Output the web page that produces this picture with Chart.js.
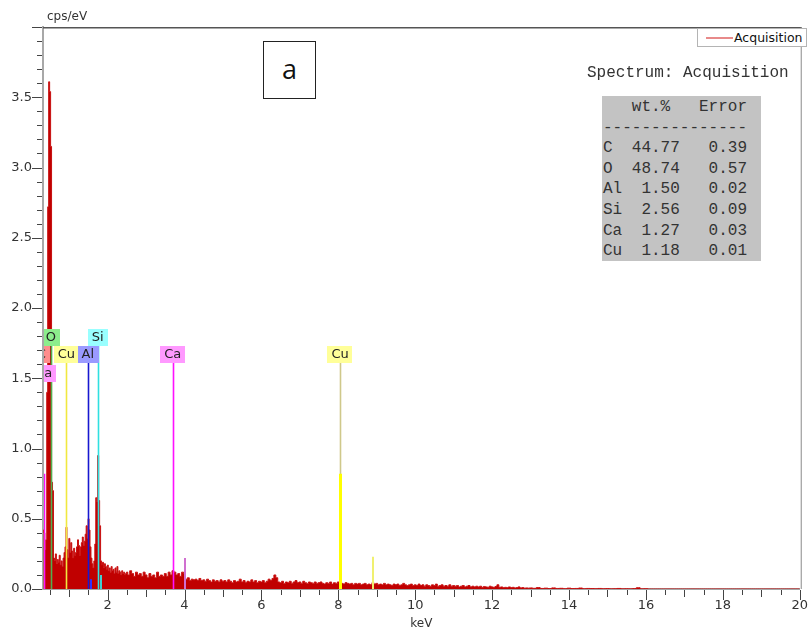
<!DOCTYPE html>
<html>
<head>
<meta charset="utf-8">
<title>EDS spectrum</title>
<script src="https://cdn.jsdelivr.net/npm/chart.js@4.4.0/dist/chart.umd.min.js"></script>
<style>
  body { margin: 0; background: #fff; }
  #wrap { position: relative; width: 811px; height: 631px; overflow: hidden; }
  #y-title { position: absolute; left: 47px; top: 9px; font: 12px "DejaVu Sans", sans-serif; color: #333; }
  #legend { position: absolute; left: 697px; top: 28px; width: 110px; height: 19px; border: 1px solid #b4b4b4;
            background: #fff; overflow: hidden; box-sizing: border-box; }
  #legend .swatch { position: absolute; left: 8px; top: 8px; width: 27px; height: 2px; background: #e88a8a; }
  #legend .name { position: absolute; left: 36px; top: 1px; font: 12.5px "DejaVu Sans", sans-serif; color: #111; white-space: nowrap; }
  #panel-tag { position: absolute; left: 263px; top: 41px; width: 53px; height: 58px; box-sizing: border-box;
               border: 1.5px solid #222; background: #fff; font: 27px "Open Sans", sans-serif; color: #111;
               text-align: center; line-height: 54px; }
  #spec-name { position: absolute; left: 587px; top: 64px; font: 16px "Liberation Mono", monospace; color: #333; white-space: pre; }
  #quant { position: absolute; left: 602px; top: 96px; width: 159px; height: 165px; margin: 0; padding: 1px 0 0 1px;
           box-sizing: border-box; background: #c3c3c3; font: 16px/20.6px "Liberation Mono", monospace; color: #333; }
</style>
</head>
<body>
<div id="wrap">
  <canvas id="spectrum" width="811" height="631"></canvas>
  <div id="y-title">cps/eV</div>
  <div id="legend"><span class="swatch"></span><span class="name">Acquisition</span></div>
  <div id="panel-tag">a</div>
  <div id="spec-name">Spectrum: Acquisition</div>
  <pre id="quant"></pre>
</div>
<script>
// counts (cps/eV), three energy segments
const lowStart = 0.33, lowStep = 0.025;
const lowCounts = [
  0.42, 0.40, 0.28, 0.35, 1.40, 2.72, 3.61, 3.54, 3.15, 0.76,
  0.70, 0.22, 0.20, 0.25, 0.18, 0.21, 0.19, 0.24, 0.17, 0.20,
  0.16, 0.22, 0.26, 0.30, 0.44, 0.28, 0.22, 0.36, 0.26, 0.33,
  0.27, 0.22, 0.29, 0.24, 0.26, 0.30, 0.35, 0.31, 0.24, 0.30,
  0.33, 0.37, 0.31, 0.34, 0.39, 0.45, 0.36, 0.50, 0.42, 0.30,
  0.22, 0.18, 0.15, 0.20, 0.32, 0.65, 0.62, 0.95, 0.63, 0.45,
  0.20, 0.17, 0.19, 0.15, 0.18, 0.16, 0.14, 0.17, 0.13, 0.15,
  0.12, 0.16, 0.13, 0.14, 0.11, 0.15, 0.12, 0.16, 0.11, 0.13,
  0.12, 0.10, 0.13, 0.11, 0.12, 0.10, 0.11
];
const midStart = 2.5, midStep = 0.05;
const midCounts = [
  0.12, 0.10, 0.13, 0.11, 0.09, 0.12, 0.10, 0.11, 0.09, 0.12,
  0.10, 0.08, 0.11, 0.09, 0.10, 0.08, 0.12, 0.09, 0.10, 0.09,
  0.11, 0.09, 0.12, 0.10, 0.13, 0.12, 0.10, 0.11, 0.09, 0.12,
  0.11, 0.07, 0.08, 0.06, 0.07, 0.065, 0.07, 0.06, 0.075, 0.06,
  0.065, 0.055, 0.07, 0.06, 0.05, 0.065, 0.055, 0.06, 0.05, 0.065,
  0.055, 0.06, 0.05, 0.065, 0.055, 0.045, 0.06, 0.05, 0.055, 0.07,
  0.05, 0.06, 0.045, 0.055, 0.05, 0.065, 0.05, 0.06, 0.045, 0.055,
  0.05, 0.06, 0.045, 0.055, 0.07, 0.06, 0.075, 0.10, 0.08, 0.05,
  0.045, 0.055, 0.04, 0.05, 0.045, 0.055, 0.04, 0.05, 0.06, 0.045,
  0.05, 0.04, 0.055, 0.045, 0.04, 0.05, 0.045, 0.04, 0.05, 0.04,
  0.045, 0.05, 0.04, 0.035, 0.045, 0.04, 0.05, 0.035, 0.045, 0.04,
  0.05, 0.045, 0.04, 0.035, 0.045, 0.04, 0.035, 0.04, 0.03, 0.04,
  0.035, 0.04, 0.03, 0.035, 0.04, 0.03, 0.035, 0.03, 0.045, 0.035,
  0.04, 0.03, 0.035, 0.03, 0.04, 0.03, 0.035, 0.03, 0.025, 0.035,
  0.03, 0.035, 0.025, 0.03, 0.04, 0.03, 0.025, 0.03, 0.035, 0.025,
  0.03, 0.025, 0.035, 0.025, 0.03, 0.02, 0.03, 0.025, 0.02, 0.03,
  0.025, 0.035, 0.02, 0.025, 0.03, 0.02, 0.025, 0.02, 0.03, 0.02,
  0.025, 0.02, 0.025, 0.015, 0.02, 0.025, 0.015, 0.02, 0.025, 0.015,
  0.02, 0.015, 0.02, 0.015, 0.02, 0.012, 0.018, 0.015, 0.012, 0.02,
  0.015, 0.012, 0.018, 0.03, 0.012, 0.015, 0.01, 0.012, 0.01, 0.015,
  0.01, 0.012, 0.008, 0.01, 0.015, 0.008, 0.01, 0.006, 0.008, 0.006
];
const highStart = 13.0, highStep = 0.1;
const highCounts = [
  0.008, 0.005, 0.01, 0.004, 0.006, 0.003, 0.008, 0.004, 0.005, 0.002,
  0.006, 0.003, 0.004, 0.007, 0.002, 0.004, 0.003, 0.002, 0.004, 0.002,
  0.003, 0.001, 0.002, 0.004, 0.001, 0.002, 0.001, 0.003, 0.009, 0.001,
  0.002, 0, 0, 0, 0, 0, 0, 0, 0, 0,
  0, 0, 0, 0, 0, 0, 0, 0, 0, 0,
  0, 0, 0, 0, 0, 0, 0, 0, 0, 0,
  0, 0, 0, 0, 0, 0, 0, 0, 0, 0, 0
];

// element markers
const markNames = ["Ca", "C", "O", "Cu", "Al", "Si", "Ca", "Cu"];
const markKeV   = [0.341, 0.277, 0.525, 0.930, 1.486, 1.740, 3.692, 8.048];
const markTop   = [0.82, 0, 1.73, 1.61, 1.61, 1.73, 1.61, 1.61];
const markRow   = [2, 1, 0, 1, 1, 0, 1, 1];
// secondary lines (K-beta etc.)
const minorKeV    = [1.557, 1.836, 4.013, 8.905];
const minorHeight = [0.07, 0.10, 0.22, 0.23];
const minorColor  = ["#3030ff", "#40d0d0", "#d070d0", "#f0f070"];
const cuKaHeight  = 0.82;

// quantification table
const quantElements = ["C", "O", "Al", "Si", "Ca", "Cu"];
const wtPercent = [44.77, 48.74, 1.50, 2.56, 1.27, 1.18];
const wtError   = [0.39, 0.57, 0.02, 0.09, 0.03, 0.01];

const rowBase = [1.73, 1.61, 1.47];
const lineColor = { Ca: "#ff10ff", C: "#ff5050", O: "#50b050", Cu: "#f0e840", Al: "#1818d0", Si: "#30e0e0" };
const boxColor  = { Ca: "#ff99ff", C: "#ff8c8c", O: "#8ced8c", Cu: "#ffff99", Al: "#9a9aff", Si: "#99ffff" };

let lines = ["   wt.%   Error", "---------------"];
quantElements.forEach((el, i) => {
  lines.push(el.padEnd(2) + wtPercent[i].toFixed(2).padStart(6) + wtError[i].toFixed(2).padStart(7));
});
document.getElementById("quant").textContent = lines.join("\n");

const spectrum = [];
lowCounts.forEach((c, i) => spectrum.push({ x: lowStart + i * lowStep, y: c }));
midCounts.forEach((c, i) => spectrum.push({ x: midStart + i * midStep, y: c }));
highCounts.forEach((c, i) => spectrum.push({ x: highStart + i * highStep, y: c }));

const markerPlugin = {
  id: "markers",
  afterDatasetsDraw(chart) {
    const { ctx, chartArea: a } = chart;
    const xs = chart.scales.x, ys = chart.scales.y;
    const y0 = ys.getPixelForValue(0);
    ctx.save();
    ctx.beginPath();
    ctx.rect(a.left + 1, a.top, a.right - a.left, a.bottom - a.top);
    ctx.clip();

    minorKeV.forEach((e, i) => {
      const px = Math.round(xs.getPixelForValue(e));
      ctx.strokeStyle = minorColor[i];
      ctx.lineWidth = 2;
      ctx.beginPath();
      ctx.moveTo(px, y0);
      ctx.lineTo(px, ys.getPixelForValue(minorHeight[i]));
      ctx.stroke();
    });

    markNames.forEach((name, i) => {
      if (!markTop[i]) return;
      const px = Math.round(xs.getPixelForValue(markKeV[i])) + 0.5;
      ctx.strokeStyle = (i === 7) ? "#cfc88a" : lineColor[name];
      ctx.lineWidth = 1.6;
      ctx.beginPath();
      ctx.moveTo(px, y0);
      ctx.lineTo(px, ys.getPixelForValue(markTop[i]));
      ctx.stroke();
    });

    // thick Cu K-alpha part
    const cuPx = Math.round(xs.getPixelForValue(markKeV[7])) + 0.5;
    ctx.strokeStyle = "#ffff00";
    ctx.lineWidth = 3;
    ctx.beginPath();
    ctx.moveTo(cuPx, y0);
    ctx.lineTo(cuPx, ys.getPixelForValue(cuKaHeight));
    ctx.stroke();

    ctx.font = '13px "DejaVu Sans", sans-serif';
    ctx.textAlign = "center";
    ctx.textBaseline = "middle";
    markNames.forEach((name, i) => {
      const px = xs.getPixelForValue(markKeV[i]);
      const yb = Math.round(ys.getPixelForValue(rowBase[markRow[i]]));
      const w = ctx.measureText(name).width + 8;
      ctx.fillStyle = boxColor[name];
      ctx.fillRect(Math.round(px - w / 2), yb - 17, Math.round(w), 17);
      ctx.fillStyle = "#222";
      ctx.fillText(name, px, yb - 8);
    });
    ctx.restore();
  },
  afterDraw(chart) {
    const { ctx, chartArea: a } = chart;
    const xs = chart.scales.x, ys = chart.scales.y;
    ctx.save();
    ctx.strokeStyle = "#444";
    ctx.lineWidth = 1;
    ctx.beginPath();
    xs.ticks.forEach(t => {
      const px = Math.round(xs.getPixelForValue(t.value)) + 0.5;
      const len = (Math.abs(t.value % 2) < 1e-6) ? 10 : (Math.abs(t.value % 1) < 1e-6 ? 7 : 5);
      ctx.moveTo(px, a.bottom + 1);
      ctx.lineTo(px, a.bottom + 1 + len);
    });
    ys.ticks.forEach(t => {
      const py = Math.round(ys.getPixelForValue(t.value)) + 0.5;
      const major = Math.abs(t.value * 2 - Math.round(t.value * 2)) < 1e-6;
      ctx.moveTo(a.left - 1, py);
      ctx.lineTo(a.left - 1 - (major ? 10 : 5), py);
    });
    ctx.stroke();
    // frame
    ctx.strokeStyle = "#555";
    ctx.lineWidth = 1.5;
    ctx.beginPath();
    ctx.moveTo(a.left, a.top + 0.75);
    ctx.lineTo(a.right + 2, a.top + 0.75);
    ctx.stroke();
    ctx.strokeStyle = "#8a8a8a";
    ctx.lineWidth = 1;
    ctx.beginPath();
    ctx.moveTo(a.right + 1.5, a.top);
    ctx.lineTo(a.right + 1.5, a.bottom);
    ctx.stroke();
    ctx.restore();
  }
};

const tickFont = { family: "DejaVu Sans", size: 13 };

new Chart(document.getElementById("spectrum"), {
  type: "line",
  data: {
    datasets: [{
      label: "Acquisition",
      data: spectrum,
      fill: "origin",
      backgroundColor: "#c00000",
      borderColor: "#c81010",
      borderWidth: 1,
      pointRadius: 0,
      stepped: "middle"
    }]
  },
  options: {
    responsive: false,
    animation: false,
    devicePixelRatio: 1,
    layout: { padding: { top: 27, right: 11, left: 0, bottom: 0 } },
    plugins: { legend: { display: false }, tooltip: { enabled: false } },
    scales: {
      x: {
        type: "linear",
        min: 0.32,
        max: 20,
        afterFit(s) { s.height = 42; },
        border: { color: "#a6a6a6", width: 2 },
        grid: { color: "rgba(0,0,0,0)", drawOnChartArea: false, drawTicks: true, tickLength: 6 },
        ticks: {
          stepSize: 0.5, includeBounds: false, autoSkip: false, maxRotation: 0, padding: 3,
          color: "#333", font: tickFont,
          callback: v => (Math.abs(v % 2) < 1e-6 ? String(v) : "")
        },
        title: { display: true, text: "keV", color: "#333", font: { family: "DejaVu Sans", size: 12 }, padding: { top: 0, bottom: 0 } }
      },
      y: {
        min: 0,
        max: 4,
        afterFit(s) { s.width = 43; },
        border: { color: "#a8a8a8", width: 2 },
        grid: { color: "rgba(0,0,0,0)", drawOnChartArea: false, drawTicks: true, tickLength: 8 },
        ticks: {
          stepSize: 0.1, autoSkip: false, padding: 3, color: "#333", font: tickFont,
          callback: v => (Math.abs(v * 2 - Math.round(v * 2)) < 1e-6 && v < 3.99 ? v.toFixed(1) : "")
        }
      }
    }
  },
  plugins: [markerPlugin]
});
</script>
</body>
</html>
